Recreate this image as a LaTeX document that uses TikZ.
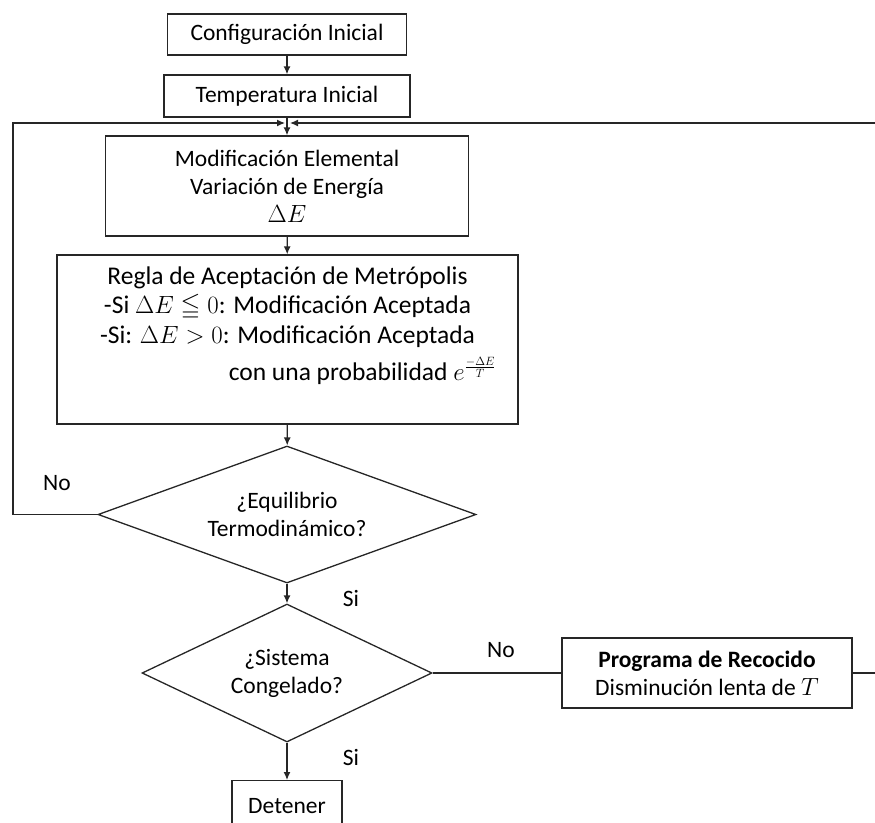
\documentclass[tikz,border=0pt]{standalone}
\usepackage{amsmath,amssymb}
\usepackage{fontspec}
\setmainfont{Carlito}
\usetikzlibrary{shapes.geometric,arrows.meta}
\begin{document}
\begin{tikzpicture}[x=1pt,y=-1pt,
  box/.style={draw=black!85, line width=1.3pt, rectangle, align=center, inner sep=0pt},
  dia/.style={draw=black!85, line width=1.3pt, diamond, align=center, inner sep=0pt},
  arr/.style={draw=black!85, line width=1.3pt, -{Latex[length=8pt,width=7pt]}},
  ln/.style={draw=black!85, line width=1.3pt},
  lbl/.style={inner sep=0pt},
  font=\fontsize{23.5}{28}\selectfont]
\clip (0,0) rectangle (875,822);
\node[box, minimum width=239pt, minimum height=41pt] (config) at (287,34.5) {Configuración Inicial};
\node[box, minimum width=246pt, minimum height=42pt] (temp) at (287,96) {Temperatura Inicial};
\node[box, minimum width=363pt, minimum height=100pt] (modif) at (287,186) {Modificación Elemental\\Variación de Energía\\$\Delta E$};
\node[box, minimum width=461pt, minimum height=169pt, font=\fontsize{25.5}{29.5}\selectfont] (metro) at (287.5,339.5) {Regla de Aceptación de Metrópolis\\-Si $\Delta E \leqq 0$: Modificación Aceptada\\-Si: $\Delta E > 0$: Modificación Aceptada\\[8pt]\hspace*{150pt}con una probabilidad $e^{\frac{-\Delta E}{T}}$\\[2pt]\mbox{}};
\node[dia, aspect=2.76, minimum width=378pt, minimum height=137pt] (eq) at (287,514.5) {¿Equilibrio\\Termodinámico?};
\node[dia, aspect=2.1, minimum width=290pt, minimum height=138pt] (sc) at (287,673) {¿Sistema\\Congelado?};
\node[box, minimum width=290pt, minimum height=70pt] (prog) at (707,673) {\textbf{Programa de Recocido}\\Disminución lenta de $T$};
\node[box, anchor=north, minimum width=110pt, minimum height=50pt] (det) at (287,780) {Detener};
\node[lbl] (no1) at (57,483) {No};
\node[lbl] (si1) at (351,598) {Si};
\node[lbl] (no2) at (501,650) {No};
\node[lbl] (si2) at (351,757) {Si};
\coordinate (jl) at (285,123);
\coordinate (jr) at (290,123);
\coordinate (lx) at (13,123);
\coordinate (rx) at (890,123);
\draw[arr] (config) -- (temp);
\draw[arr] (temp) -- (modif);
\draw[arr] (modif) -- (metro);
\draw[arr] (metro) -- (eq);
\draw[arr] (eq) -- (sc);
\draw[arr] (sc) -- (det);
\draw[ln] (sc) -- (prog);
\draw[arr] (eq.west) -| (lx) -- (jl);
\draw[arr] (prog.east) -| (rx) -- (jr);
\end{tikzpicture}
\end{document}
